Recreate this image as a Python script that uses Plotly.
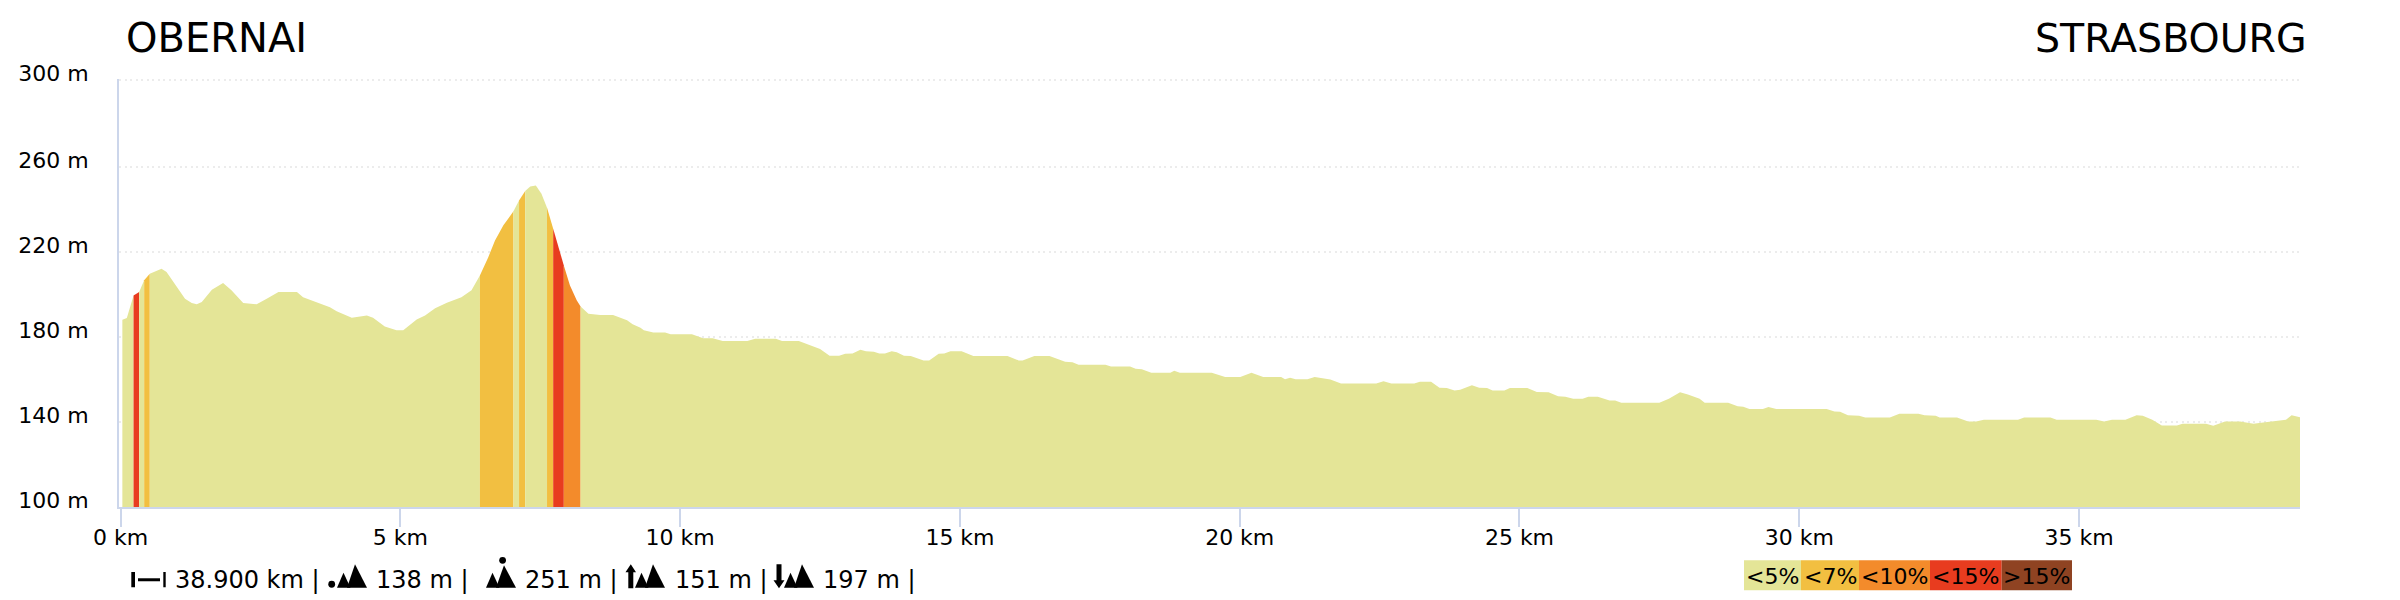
import plotly.graph_objects as go

distance_km = [0.03,0.11,0.23,0.33,0.42,0.52,0.73,0.82,0.97,1.15,1.27,1.36,1.45,1.63,1.83,1.98,2.19,2.43,2.61,2.82,3.15,3.26,3.74,3.86,4.13,4.40,4.51,4.72,4.93,5.05,5.29,5.44,5.62,5.83,6.09,6.27,6.42,6.57,6.69,6.84,7.02,7.12,7.23,7.32,7.42,7.52,7.62,7.73,7.82,7.92,8.03,8.15,8.22,8.36,8.57,8.80,9.05,9.15,9.29,9.35,9.52,9.73,9.83,10.21,10.41,10.58,10.76,11.20,11.34,11.71,11.82,12.12,12.50,12.67,12.84,12.95,13.08,13.22,13.32,13.46,13.56,13.66,13.78,13.87,14.00,14.12,14.35,14.45,14.62,14.72,14.83,15.03,15.24,15.85,16.05,16.12,16.33,16.60,16.88,17.01,17.12,17.60,17.70,18.04,18.14,18.25,18.42,18.76,18.83,18.93,19.30,19.50,19.74,20.01,20.21,20.42,20.74,20.81,20.90,21.00,21.21,21.34,21.62,21.81,22.44,22.57,22.71,23.12,23.22,23.42,23.57,23.70,23.84,23.94,24.15,24.28,24.42,24.52,24.73,24.83,25.14,25.31,25.52,25.69,25.82,25.96,26.13,26.23,26.40,26.61,26.71,26.82,27.50,27.67,27.87,28.01,28.22,28.31,28.73,28.90,29.00,29.11,29.35,29.45,29.59,30.01,30.49,30.63,30.73,30.87,31.07,31.18,31.62,31.79,32.13,32.24,32.44,32.51,32.82,33.02,33.16,33.30,33.91,34.02,34.49,34.60,35.31,35.45,35.59,35.83,36.03,36.14,36.31,36.48,36.75,36.85,37.27,37.40,37.61,37.88,38.12,38.22,38.57,38.70,38.80,38.95]
elevation_m = [188.2,189,199.6,201.2,206.7,209.8,212.2,210.6,205.1,198,196,195.4,196.5,202.3,205.4,202,196,195.4,198,201.2,201.2,198.8,194.1,192.1,189.1,190.2,189.1,185,183.2,183.2,188.3,190.2,193.6,196.2,198.8,202,209,217.6,225.5,232.6,239.2,244.3,248.8,250.9,251.4,247.5,240.9,231,222.4,213.7,204.3,197.3,194.4,191,190.4,190.4,187.9,186,184.4,183.2,182.2,182.2,181.3,181.3,179.4,179.4,178.1,178.1,179.2,179.2,178.1,178.1,174.4,171.2,171.2,172.1,172.3,174,173.3,173.1,172.3,172.3,173.3,172.9,171.2,171.1,169,169,172.1,172.3,173.3,173.3,171.1,171.1,169,169,171.1,171.1,168.4,168.1,167,167,166.1,166.1,165.1,164.9,163.2,163.2,164.2,163.2,163.2,163.2,161.2,161.2,163.2,161.2,161.2,160.1,160.9,160.1,160.1,161.2,160,158.1,158.1,159.2,158.1,158.1,159,159,156.2,156,154.9,155.2,157.3,156.2,156,154.9,154.9,156,156,154.1,154,152.1,151.9,151,151,151.9,151.9,150.1,150.1,149.1,149.1,151,154,153,151,149.1,149.1,147.4,147.2,146.1,146.1,147.1,146.1,146.1,146.1,145,144.9,143.2,143,142.1,142.1,143.9,143.9,143.2,143,142.1,142.1,140.2,140.2,141.1,141.1,142.1,142.1,141.1,141.1,140.2,141.1,141.1,143.2,143,141.1,138.4,138.4,139.2,139.2,138.3,140.3,140.3,139.2,139.5,140.8,141.1,143.2,142.2]

# (end of stretch in km, gradient class)
stretch_end_km = [0.23,0.33,0.42,0.52,6.42,7.02,7.12,7.23,7.62,7.73,7.92,8.22,38.95]
stretch_class = [0,3,0,1,0,1,0,1,0,1,3,2,0]

class_labels = ["<5%","<7%","<10%","<15%",">15%"]
class_colors = ["#e4e597","#f2bf41","#f38b2b","#e83c1f","#8f4322"]

x_ticks = [0,5,10,15,20,25,30,35]
x_tick_text = ["0 km","5 km","10 km","15 km","20 km","25 km","30 km","35 km"]
y_ticks = [100,140,180,220,260,301]
y_tick_text = ["100 m","140 m","180 m","220 m","260 m","300 m"]

start_name = "OBERNAI"
end_name = "STRASBOURG"
stats = ["38.900 km |","138 m |","251 m |","151 m |","197 m |"]

FONT = "DejaVu Sans"
L, R, T, B = 119.0, 2300.0, 78.5, 506.7
def px(x): return (x-L)/(R-L)
def py(y): return (B-y)/(B-T)

fig = go.Figure()
start = distance_km[0]
for end, cls in zip(stretch_end_km, stretch_class):
    xs, ys = [], []
    for d, e in zip(distance_km, elevation_m):
        if start <= d <= end:
            xs.append(d); ys.append(e)
    fig.add_trace(go.Scatter(x=xs, y=ys, mode="lines", fill="tozeroy", fillcolor=class_colors[cls],
                             line=dict(width=0, color=class_colors[cls]), hoverinfo="skip", showlegend=False))
    start = end

annotations = []
def text(t, x, y, size, anchor="left", color="#000000"):
    annotations.append(dict(text=t, xref="paper", yref="paper", x=px(x), y=py(y), xanchor=anchor, yanchor="middle",
                            showarrow=False, font=dict(family=FONT, size=size, color=color), borderpad=0, borderwidth=0))
shapes = []
def poly(points, color="#000000"):
    d = "M " + " L ".join(f"{px(a):.5f},{py(b):.5f}" for a, b in points) + " Z"
    shapes.append(dict(type="path", path=d, xref="paper", yref="paper", fillcolor=color, line=dict(width=0)))
def rect(x0, y0, x1, y1, color="#000000"):
    shapes.append(dict(type="rect", xref="paper", yref="paper", x0=px(x0), x1=px(x1), y0=py(y0), y1=py(y1),
                       fillcolor=color, line=dict(width=0), layer="above"))
def dot(cx, cy, r):
    shapes.append(dict(type="circle", xref="paper", yref="paper", x0=px(cx-r), x1=px(cx+r), y0=py(cy-r), y1=py(cy+r),
                       fillcolor="#000000", line=dict(width=0)))
def peaks(x, base=587.5, big_top=564):
    poly([(x, base), (x+6.5, base-15), (x+13.5, base)])
    poly([(x+10, base), (x+18, big_top), (x+30, base)])

text(start_name, 126, 37.5, 40)
text(end_name, 2307, 37.5, 39.5, "right")

# distance icon
rect(131.3, 571.7, 135, 587)
rect(138, 578, 160, 581)
rect(163.3, 571.7, 165.7, 587)
# min altitude icon
dot(331.7, 584, 3.4); peaks(337)
# max altitude icon
dot(502.6, 560, 3.4); peaks(486, big_top=565)
# gain icon
poly([(628.3, 588), (628.3, 572), (625.5, 572), (630.8, 564), (636, 572), (633.3, 572), (633.3, 588)]); peaks(635)
# loss icon
poly([(776.5, 564), (776.5, 580), (773.5, 580), (779, 588), (784.5, 580), (781.5, 580), (781.5, 564)]); peaks(784)

for t, x in zip(stats, [174.5, 375.5, 525, 674.5, 823]):
    text(t, x, 580, 24)

edges = [1744, 1801, 1859, 1930, 2001.7, 2072]
for i, lab in enumerate(class_labels):
    rect(edges[i], 560, edges[i+1], 590, class_colors[i])
    text(lab, (edges[i]+edges[i+1])/2, 576, 22, "center")

fig.update_layout(
    width=2400, height=600, autosize=False,
    margin=dict(l=L, r=2400-R, t=T, b=600-B, pad=0),
    paper_bgcolor="#ffffff", plot_bgcolor="#ffffff",
    font=dict(family=FONT, size=22, color="#000000"),
    showlegend=False,
    annotations=annotations, shapes=shapes,
    xaxis=dict(range=[-0.03, 38.95], tickmode="array", tickvals=x_ticks, ticktext=x_tick_text,
               ticks="outside", ticklen=18, tickwidth=1.5, tickcolor="#ccd6eb", ticklabelstandoff=-8,
               showline=True, linecolor="#ccd6eb", linewidth=2, showgrid=False, zeroline=False,
               tickfont=dict(family=FONT, size=22, color="#000000")),
    yaxis=dict(range=[100, 301.5], tickmode="array", tickvals=y_ticks, ticktext=y_tick_text,
               showline=True, linecolor="#ccd6eb", linewidth=2, showgrid=True, gridcolor="#ececec", gridwidth=1.5,
               griddash="2px,3.5px", zeroline=False, ticks="", ticklabelstandoff=24, ticklabelshift=-7,
               tickfont=dict(family=FONT, size=22, color="#000000")),
)
fig.write_html("out.html", config=dict(displayModeBar=False), post_script="document.body.style.margin='0';")
